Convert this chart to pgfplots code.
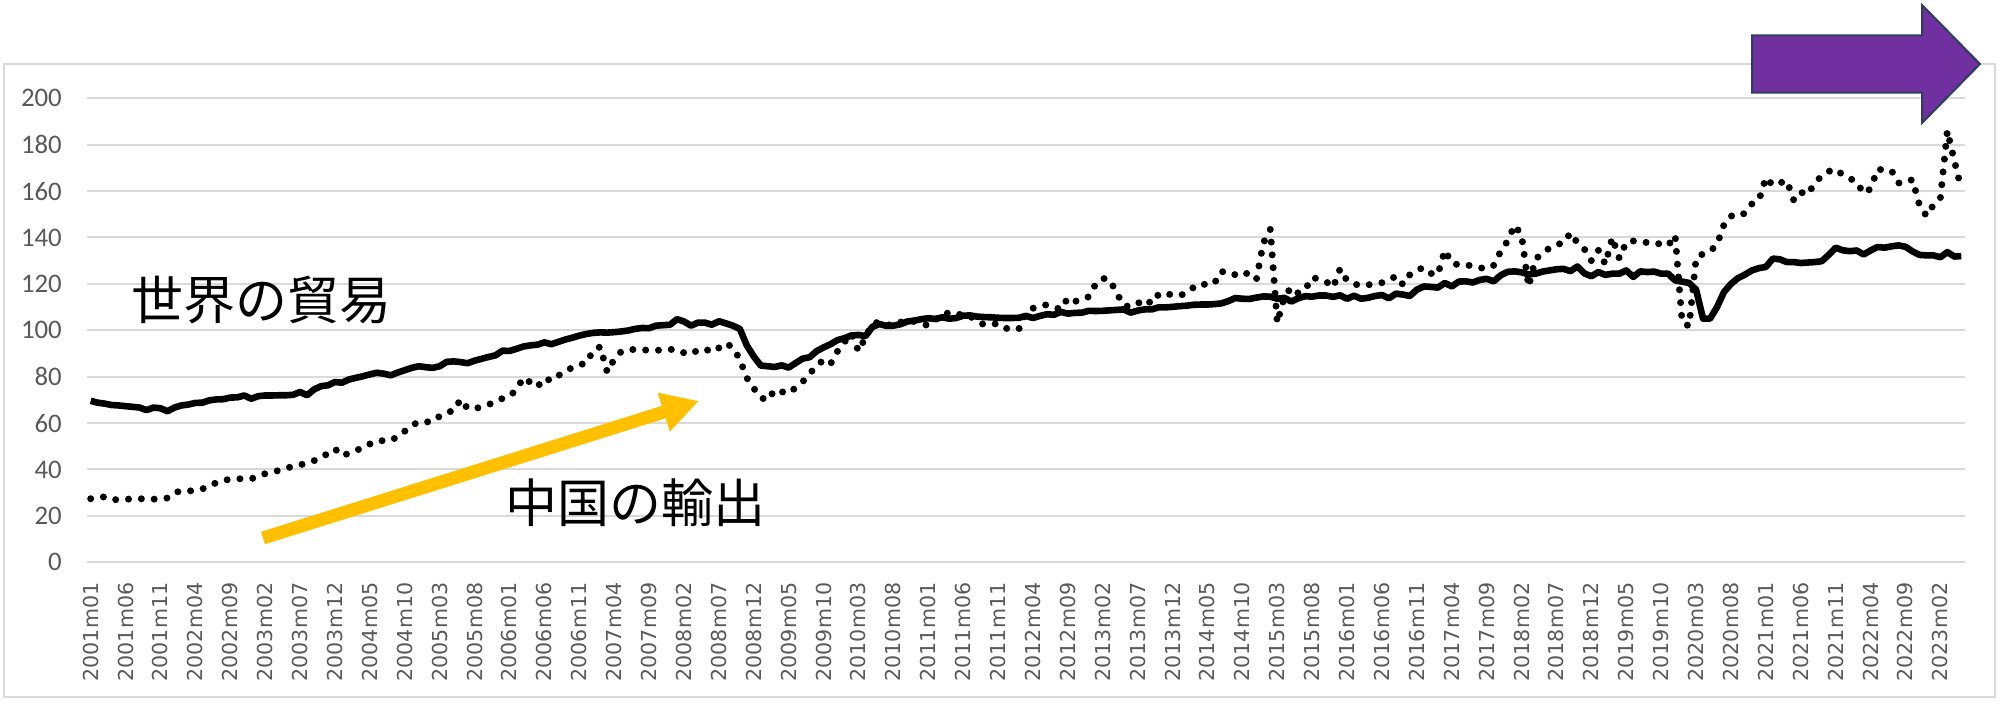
\documentclass[border=0pt]{standalone}
\usepackage{fontspec}
\setmainfont{Carlito}
\newfontfamily\cjk{Noto Sans CJK JP}
\newfontfamily\xfont{DejaVu Sans}
\usepackage{pgfplots}
\pgfplotsset{compat=1.18}
\usepackage{pgfplotstable}
\usetikzlibrary{arrows.meta}
\definecolor{gridgray}{HTML}{D9D9D9}
\definecolor{labgray}{HTML}{595959}
\definecolor{arrowgold}{HTML}{FFC000}
\definecolor{purp}{HTML}{7030A0}
\definecolor{navy}{HTML}{2F3D5F}

\pgfplotstableread{
i w c
0 69.6 27.4
1 68.8 28.0
2 68.4 28.2
3 67.8 27.0
4 67.6 27.0
5 67.3 27.2
6 67.0 27.3
7 66.7 27.4
8 65.6 27.3
9 66.7 27.2
10 66.4 27.5
11 65.1 27.7
12 66.7 30.0
13 67.6 30.8
14 68.0 30.7
15 68.7 31.0
16 68.8 31.6
17 69.8 33.0
18 70.2 34.3
19 70.3 35.3
20 71.0 35.8
21 71.1 36.0
22 71.9 36.0
23 70.5 36.0
24 71.6 37.0
25 71.9 38.2
26 71.9 38.9
27 72.0 39.6
28 72.0 40.6
29 72.2 41.3
30 73.4 42.0
31 72.0 42.8
32 74.5 43.8
33 75.9 45.0
34 76.3 47.0
35 77.7 48.9
36 77.4 45.9
37 78.8 47.0
38 79.5 48.3
39 80.2 49.2
40 81.0 51.0
41 81.7 52.4
42 81.3 52.4
43 80.6 52.5
44 81.8 54.2
45 82.8 56.5
46 83.8 59.0
47 84.5 60.5
48 84.1 60.5
49 83.8 60.6
50 84.5 63.0
51 86.4 64.6
52 86.6 65.3
53 86.3 70.2
54 85.8 66.3
55 86.9 66.4
56 87.7 66.8
57 88.5 67.9
58 89.2 69.5
59 91.2 70.6
60 91.1 71.5
61 92.0 74.5
62 93.0 79.6
63 93.5 77.5
64 93.8 75.6
65 94.8 79.4
66 94.0 78.2
67 95.0 80.4
68 96.0 82.7
69 96.8 83.8
70 97.7 85.2
71 98.4 85.7
72 98.9 91.4
73 99.1 92.9
74 99.0 82.0
75 99.2 87.5
76 99.5 90.8
77 99.9 91.5
78 100.6 91.8
79 101.0 91.6
80 100.9 91.4
81 102.0 91.4
82 102.2 91.4
83 102.4 91.8
84 104.8 91.5
85 103.8 90.3
86 102.0 89.7
87 103.3 91.5
88 103.3 92.0
89 102.4 90.6
90 103.9 92.4
91 103.0 94.5
92 102.0 92.5
93 100.6 87.5
94 93.5 79.5
95 88.7 75.0
96 84.8 71.0
97 84.5 69.8
98 84.2 74.3
99 84.9 73.5
100 83.9 72.8
101 85.9 75.3
102 87.8 77.8
103 88.4 81.3
104 91.0 84.7
105 92.6 87.2
106 94.0 85.5
107 95.8 91.0
108 96.6 95.0
109 97.8 98.6
110 98.0 91.0
111 97.5 97.0
112 101.5 103.0
113 102.7 103.5
114 101.9 102.5
115 102.0 102.0
116 102.6 103.5
117 103.8 104.0
118 104.2 103.8
119 104.8 103.0
120 105.2 102.0
121 104.9 104.5
122 105.6 107.0
123 105.0 107.5
124 105.3 106.5
125 106.3 107.2
126 106.4 106.0
127 105.9 104.0
128 105.7 102.4
129 105.6 102.6
130 105.4 102.9
131 105.3 101.0
132 105.3 100.2
133 105.4 100.7
134 106.2 107.5
135 105.3 109.5
136 106.2 110.5
137 106.9 111.0
138 106.7 110.0
139 107.9 109.0
140 107.2 114.0
141 107.5 112.5
142 107.6 113.0
143 108.4 114.5
144 108.3 120.0
145 108.4 122.4
146 108.6 121.8
147 108.8 116.0
148 109.0 110.8
149 107.6 110.0
150 108.5 111.5
151 109.0 113.5
152 109.0 111.5
153 109.9 115.5
154 109.9 116.2
155 110.1 115.0
156 110.4 115.0
157 110.6 116.0
158 111.0 118.5
159 111.1 120.2
160 111.1 119.5
161 111.3 120.3
162 111.6 125.5
163 112.6 124.0
164 113.9 124.0
165 113.6 125.3
166 113.5 124.0
167 114.1 121.8
168 114.6 137.7
169 114.5 143.5
170 113.6 103.2
171 114.0 114.4
172 112.4 118.5
173 113.8 116.0
174 114.7 117.5
175 114.5 122.8
176 115.0 122.0
177 115.0 121.0
178 114.4 118.5
179 115.1 126.5
180 113.6 121.4
181 114.9 120.0
182 113.6 119.2
183 114.0 119.6
184 114.8 120.0
185 115.2 120.5
186 113.8 121.5
187 115.8 123.4
188 115.4 119.7
189 114.8 124.0
190 117.5 126.0
191 118.9 127.0
192 118.7 124.5
193 118.4 124.0
194 120.4 134.5
195 118.9 129.0
196 121.0 128.2
197 121.1 128.4
198 120.6 127.5
199 121.7 127.0
200 122.2 126.5
201 121.1 128.0
202 123.7 134.0
203 125.2 138.5
204 125.4 145.3
205 125.0 141.0
206 124.1 118.8
207 124.4 130.8
208 125.3 133.0
209 125.8 135.5
210 126.3 137.0
211 126.5 137.6
212 125.5 142.0
213 127.5 137.7
214 124.5 135.0
215 123.3 130.0
216 125.1 134.5
217 123.9 128.5
218 124.4 140.0
219 124.4 131.0
220 125.8 138.0
221 123.0 138.5
222 125.4 137.8
223 125.1 137.9
224 125.3 137.9
225 124.4 137.0
226 124.4 136.5
227 121.5 141.0
228 121.0 103.5
229 120.4 101.8
230 117.5 131.0
231 105.0 133.0
232 105.0 134.0
233 110.0 137.0
234 116.5 145.5
235 120.0 149.3
236 122.5 149.0
237 124.0 150.5
238 125.8 154.5
239 126.8 156.0
240 127.3 165.8
241 130.9 162.5
242 130.6 163.5
243 129.4 164.5
244 129.4 156.0
245 129.0 159.5
246 129.2 158.5
247 129.4 163.5
248 129.8 166.5
249 132.5 168.5
250 135.6 169.5
251 134.5 167.0
252 134.1 165.5
253 134.4 164.0
254 132.7 159.0
255 134.4 161.0
256 135.9 169.5
257 135.6 169.0
258 136.2 168.8
259 136.6 163.5
260 136.0 163.6
261 134.0 165.0
262 132.5 154.0
263 132.3 149.3
264 132.3 154.0
265 131.5 157.0
266 133.7 186.0
267 131.8 173.0
268 132.0 161.0
}\data

\begin{document}
\begin{tikzpicture}
\path[use as bounding box] (0,0) rectangle (999.5pt,350.5pt);
\draw[gridgray, line width=1pt] (1.75pt,2pt) rectangle (997.5pt,318.25pt);
\begin{axis}[
  at={(43.6pt,69.35pt)}, anchor=south west,
  scale only axis, width=938.8pt, height=232pt,
  xmin=-0.5, xmax=268.5, ymin=0, ymax=200,
  ytick={0,20,...,200},
  xtick={0,5,...,265},
  xticklabels={2001m01,2001m06,2001m11,2002m04,2002m09,2003m02,2003m07,2003m12,2004m05,2004m10,2005m03,2005m08,2006m01,2006m06,2006m11,2007m04,2007m09,2008m02,2008m07,2008m12,2009m05,2009m10,2010m03,2010m08,2011m01,2011m06,2011m11,2012m04,2012m09,2013m02,2013m07,2013m12,2014m05,2014m10,2015m03,2015m08,2016m01,2016m06,2016m11,2017m04,2017m09,2018m02,2018m07,2018m12,2019m05,2019m10,2020m03,2020m08,2021m01,2021m06,2021m11,2022m04,2022m09,2023m02},
  axis line style={draw=none},
  major tick length=0pt,
  ymajorgrids, grid style={gridgray, line width=1pt},
  tick label style={text=labgray},
  yticklabel style={font=\fontsize{13.4pt}{14pt}\selectfont, anchor=east, inner sep=0pt},
  yticklabel shift=12.5pt,
  xticklabel style={font=\xfont\fontsize{10.3pt}{12pt}\selectfont, rotate=90, anchor=east, inner sep=0pt},
  xticklabel shift=10pt,
  /pgf/number format/assume math mode=true,
  clip=false,
]
\addplot[black, line width=3.3pt, line join=round] table[x=i,y=w]{\data};
\addplot[black, line width=3.5pt, line cap=round, line join=round, dash pattern=on 0pt off 6.42pt] table[x=i,y=c]{\data};
\end{axis}
\draw[arrowgold, line width=6.5pt, -{Triangle[length=18.5pt,width=19pt]}] (131.5pt,81.5pt) -- (349.5pt,150pt);
\node[font=\cjk\fontsize{26pt}{30pt}\selectfont, inner sep=0pt] at (130.5pt,200.5pt) {世界の貿易};
\node[font=\cjk\fontsize{26pt}{30pt}\selectfont, inner sep=0pt] at (317.5pt,99pt) {中国の輸出};
\filldraw[fill=purp, draw=navy, line width=1pt, line join=miter] (876pt,332.75pt) -- (961pt,332.75pt) -- (961pt,348pt) -- (990pt,318.5pt) -- (961pt,289pt) -- (961pt,304.2pt) -- (876pt,304.2pt) -- cycle;
\end{tikzpicture}
\end{document}
